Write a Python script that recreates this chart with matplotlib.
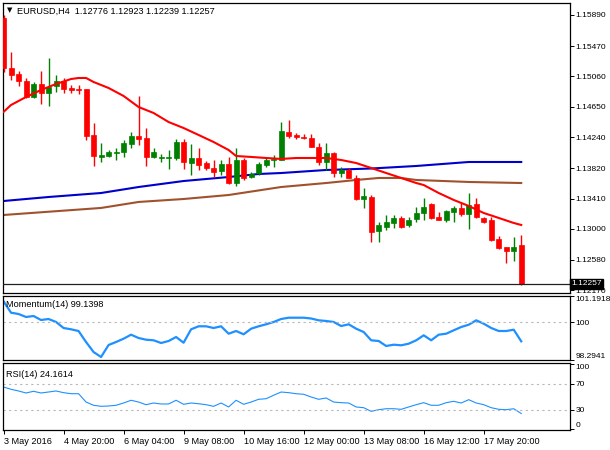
import matplotlib
matplotlib.use("Agg")
import matplotlib.pyplot as plt
import matplotlib.transforms as mtransforms
import numpy as np

plt.rcParams["font.family"] = ["Liberation Sans", "DejaVu Sans"]

# EURUSD H4 candles
opens = [1.15849, 1.15174, 1.15093, 1.14998, 1.14782, 1.14958, 1.14836, 1.14931, 1.14998, 1.14904,
         1.14890, 1.14890, 1.14269, 1.13972, 1.13985, 1.14026, 1.14039, 1.14147, 1.14255, 1.14228,
         1.13972, 1.13958, 1.13958, 1.13958, 1.14174, 1.13890, 1.13958, 1.13890, 1.13823, 1.13782,
         1.13877, 1.13620, 1.13931, 1.13701, 1.13755, 1.13863, 1.13931, 1.13931, 1.14309, 1.14269,
         1.14242, 1.14228, 1.14107, 1.13904, 1.14026, 1.13755, 1.13796, 1.13688, 1.13404, 1.13431,
         1.12972, 1.13026, 1.13080, 1.13148, 1.13053, 1.13134, 1.13215, 1.13337, 1.13161, 1.13120,
         1.13229, 1.13283, 1.13202, 1.13337, 1.13148, 1.13120, 1.12864, 1.12756, 1.12702, 1.12776]
highs = [1.15890, 1.15390, 1.15133, 1.15039, 1.14985, 1.15133, 1.15309, 1.15079, 1.15039, 1.14944,
         1.14944, 1.14890, 1.14431, 1.14161, 1.14066, 1.14093, 1.14201, 1.14309, 1.14796, 1.14363,
         1.14093, 1.14012, 1.14066, 1.14215, 1.14215, 1.14147, 1.14093, 1.13918, 1.13931, 1.13931,
         1.13972, 1.14093, 1.13958, 1.13769, 1.13904, 1.13972, 1.13999, 1.14444, 1.14471, 1.14296,
         1.14282, 1.14282, 1.14161, 1.14161, 1.14039, 1.13836, 1.13823, 1.13728, 1.13553, 1.13458,
         1.13093, 1.13188, 1.13188, 1.13175, 1.13161, 1.13296, 1.13418, 1.13350, 1.13229, 1.13256,
         1.13310, 1.13364, 1.13485, 1.13418, 1.13161, 1.13161, 1.12904, 1.12756, 1.12891, 1.12923]
lows = [1.15120, 1.15012, 1.14931, 1.14769, 1.14769, 1.14688, 1.14661, 1.14850, 1.14836, 1.14836,
        1.14823, 1.14201, 1.13850, 1.13904, 1.13972, 1.13931, 1.13972, 1.14093, 1.14134, 1.13850,
        1.13958, 1.13904, 1.13809, 1.13931, 1.13809, 1.13728, 1.13796, 1.13796, 1.13701, 1.13728,
        1.13607, 1.13580, 1.13661, 1.13688, 1.13728, 1.13836, 1.13836, 1.13931, 1.14228, 1.14215,
        1.14215, 1.14107, 1.13863, 1.13796, 1.13701, 1.13701, 1.13688, 1.13391, 1.13283, 1.12823,
        1.12823, 1.12985, 1.13012, 1.13012, 1.13026, 1.13093, 1.13120, 1.13134, 1.13120, 1.13093,
        1.13093, 1.13175, 1.12999, 1.13148, 1.13080, 1.12837, 1.12729, 1.12539, 1.12567, 1.12239]
closes = [1.15174, 1.15079, 1.14998, 1.14782, 1.14958, 1.14836, 1.14917, 1.14998, 1.14890, 1.14877,
          1.14877, 1.14255, 1.13985, 1.13999, 1.14039, 1.14039, 1.14161, 1.14255, 1.14215, 1.13972,
          1.14039, 1.13972, 1.13972, 1.14174, 1.13904, 1.13958, 1.13863, 1.13823, 1.13769, 1.13877,
          1.13620, 1.13931, 1.13688, 1.13742, 1.13877, 1.13931, 1.13945, 1.14323, 1.14255, 1.14242,
          1.14228, 1.14107, 1.13904, 1.14026, 1.13755, 1.13796, 1.13688, 1.13404, 1.13445, 1.12958,
          1.13053, 1.13093, 1.13148, 1.13026, 1.13120, 1.13215, 1.13296, 1.13148, 1.13120, 1.13242,
          1.13283, 1.13202, 1.13323, 1.13161, 1.13093, 1.12850, 1.12742, 1.12702, 1.12756, 1.12257]

# moving averages (bar index, price)
ma_fast_idx = [0, 1, 3, 5, 7, 9, 10, 11, 12, 14, 16, 18, 20, 22, 24, 26, 28, 30, 31, 33, 35, 37,
               39, 41, 43, 45, 47, 49, 51, 53, 55, 56, 58, 60, 62, 64, 66, 68, 69]
ma_fast = [1.14580, 1.14674, 1.14782, 1.14877, 1.14958, 1.15025, 1.15039, 1.15039, 1.14985,
           1.14904, 1.14796, 1.14647, 1.14566, 1.14444, 1.14363, 1.14269, 1.14174, 1.14066,
           1.13985, 1.13972, 1.13958, 1.13945, 1.13958, 1.13958, 1.13958, 1.13931, 1.13890,
           1.13823, 1.13755, 1.13688, 1.13620, 1.13593, 1.13485, 1.13391, 1.13310, 1.13215,
           1.13148, 1.13080, 1.13053]
ma_mid_idx = [0, 6, 13, 18, 24, 30, 34, 37, 43, 49, 55, 62, 69]
ma_mid = [1.13377, 1.13431, 1.13485, 1.13566, 1.13647, 1.13701, 1.13742, 1.13755, 1.13796,
          1.13816, 1.13850, 1.13904, 1.13904]
ma_slow_idx = [0, 13, 18, 24, 30, 37, 43, 47, 50, 53, 55, 62, 69]
ma_slow = [1.13188, 1.13283, 1.13364, 1.13404, 1.13458, 1.13566, 1.13620, 1.13661, 1.13688,
           1.13688, 1.13661, 1.13634, 1.13620]

momentum = [100.952, 100.436, 100.377, 100.241, 100.286, 100.105, 100.150, 100.015, 99.743, 99.684,
            99.607, 99.109, 98.656, 98.430, 98.973, 99.109, 99.258, 99.440, 99.290, 99.213,
            99.186, 99.064, 99.154, 99.335, 99.077, 99.684, 99.820, 99.820, 99.743, 99.820,
            99.485, 99.607, 99.458, 99.711, 99.820, 99.910, 100.015, 100.150, 100.209, 100.209,
            100.209, 100.173, 100.091, 100.060, 100.015, 99.833, 99.910, 99.711, 99.562, 99.186,
            99.154, 98.928, 98.987, 98.960, 99.032, 99.186, 99.412, 99.186, 99.440, 99.485,
            99.639, 99.788, 99.892, 100.091, 99.938, 99.743, 99.607, 99.607, 99.666, 99.1398]
rsi = [64.9, 61.4, 58.8, 55.7, 58.3, 55.7, 57.2, 58.8, 56.2, 54.6,
       54.6, 41.8, 36.8, 35.2, 35.7, 36.8, 40.3, 44.5, 41.8, 37.7,
       40.3, 38.8, 38.8, 44.5, 38.3, 40.3, 39.2, 37.7, 35.2, 40.3,
       34.2, 44.5, 38.3, 41.8, 46.0, 46.9, 52.2, 57.2, 56.2, 54.6,
       53.7, 49.5, 46.0, 48.0, 41.8, 40.8, 40.3, 34.2, 33.1, 27.5,
       30.0, 31.5, 31.5, 30.6, 34.2, 37.7, 40.8, 36.8, 36.8, 40.8,
       42.9, 40.3, 45.4, 40.3, 37.7, 33.1, 30.6, 30.0, 31.5, 24.1614]

price_ticks = [1.15890, 1.15470, 1.15060, 1.14650, 1.14240, 1.13820, 1.13410, 1.13000, 1.12580, 1.12170]
date_idx = [0, 8, 16, 24, 32, 40, 48, 56, 64]
date_labels = ["3 May 2016", "4 May 20:00", "6 May 04:00", "9 May 08:00", "10 May 16:00",
               "12 May 00:00", "13 May 08:00", "16 May 12:00", "17 May 20:00"]
last_price = 1.12257

W, H = 610, 450
fig = plt.figure(figsize=(W / 100, H / 100), dpi=100)
fig.patch.set_facecolor("white")


def box(top, bottom, left=3, right=570):
    return [left / W, 1 - bottom / H, (right - left) / W, (bottom - top) / H]


ax = fig.add_axes(box(3, 293))
axm = fig.add_axes(box(296, 360), sharex=ax)
axr = fig.add_axes(box(363, 430), sharex=ax)

fs = 6.6
yfs = 6.0
for a in (ax, axm, axr):
    a.set_facecolor("white")
    for s in a.spines.values():
        s.set_color("black")
        s.set_linewidth(0.9)
    a.yaxis.tick_right()
    a.tick_params(axis="y", length=3, width=0.7, pad=1.2, labelsize=yfs, colors="black")
    a.tick_params(axis="x", bottom=False, labelbottom=False)

x = np.arange(len(opens))
o = np.array(opens)
c = np.array(closes)
up = c >= o
colors = np.where(up, "#008000", "#ff0000")

# candles
ax.vlines(x, lows, highs, colors=colors, lw=1.0, zorder=3)
body_low = np.minimum(o, c)
body_h = np.maximum(np.abs(c - o), 0.00012)
ax.bar(x, body_h, bottom=body_low, width=0.66, color=colors, edgecolor=colors, lw=0.5, zorder=4)

ax.plot(ma_slow_idx, ma_slow, color="#a0522d", lw=1.5, zorder=2)
ax.plot(ma_mid_idx, ma_mid, color="#0000cd", lw=1.5, zorder=2)
ax.plot(ma_fast_idx, ma_fast, color="#ff0000", lw=1.5, zorder=5)

ax.axhline(last_price, color="#202020", lw=0.9, zorder=6)
ax.set_xlim(-0.07, 75.5)
ax.set_ylim(1.12134, 1.16052)
ax.set_yticks(price_ticks)
ax.set_yticklabels([f"{p:.5f}" for p in price_ticks])
tr = mtransforms.blended_transform_factory(ax.transAxes, ax.transData)
ax.text(1.003, last_price, f"{last_price:.5f}", transform=tr, fontsize=yfs, color="white",
        va="center", ha="left", zorder=10,
        bbox=dict(boxstyle="square,pad=0.15", fc="black", ec="black"))
ax.text(0.007, 0.985, "\u25bc", transform=ax.transAxes, fontsize=5, va="top", ha="left",
        family=["DejaVu Sans"])
ax.text(0.025, 0.987, "EURUSD,H4  1.12776 1.12923 1.12239 1.12257", transform=ax.transAxes,
        fontsize=fs, va="top", ha="left")

# momentum
axm.plot(x, momentum, color="#1e90ff", lw=1.6)
axm.axhline(100, color="#b8b8b8", lw=0.8, ls=(0, (2, 3)))
axm.set_ylim(98.2941, 101.1918)
axm.set_yticks([98.2941, 100, 101.1918])
axm.set_yticklabels(["98.2941", "100", "101.1918"])
labs = axm.get_yticklabels()
labs[0].set_verticalalignment("bottom")
labs[2].set_verticalalignment("top")
axm.text(0.005, 0.93, "Momentum(14) 99.1398", transform=axm.transAxes, fontsize=fs,
         va="top", ha="left")

# rsi
axr.plot(x, rsi, color="#1e90ff", lw=0.8)
for lvl in (70, 30):
    axr.axhline(lvl, color="#b8b8b8", lw=0.8, ls=(0, (2, 3)))
axr.set_ylim(-1.2, 101.8)
axr.set_yticks([0, 30, 70, 100])
axr.set_yticklabels(["0", "30", "70", "100"])
rl = axr.get_yticklabels()
rl[0].set_verticalalignment("bottom")
rl[3].set_verticalalignment("top")
axr.text(0.005, 0.9, "RSI(14) 24.1614", transform=axr.transAxes, fontsize=fs,
         va="top", ha="left")

axr.tick_params(axis="x", bottom=True, labelbottom=True, length=3, width=0.7, pad=2,
                labelsize=fs, colors="black")
axr.set_xticks(date_idx)
axr.set_xticklabels(date_labels, ha="left")

fig.savefig("out.png", dpi=100, facecolor="white")
